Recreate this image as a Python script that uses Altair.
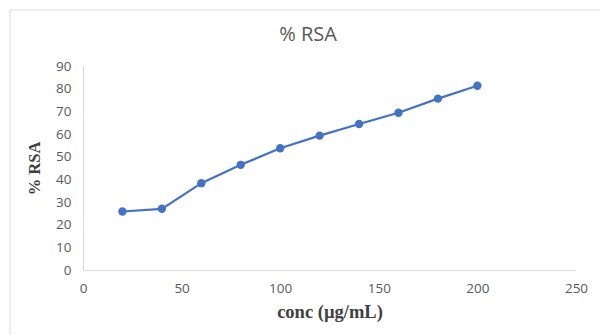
import altair as alt
import pandas as pd

conc = [20, 40, 60, 80, 100, 120, 140, 160, 180, 200]
rsa = [25.8, 27.0, 38.3, 46.4, 53.7, 59.3, 64.4, 69.4, 75.6, 81.3]
chart_title = ["% RSA"]

df = pd.DataFrame({"conc": conc, "rsa": rsa})
tdf = pd.DataFrame({"t": chart_title})

x = alt.X("conc:Q", title="conc (µg/mL)",
          scale=alt.Scale(domain=[0, 250], nice=False),
          axis=alt.Axis(values=[0, 50, 100, 150, 200, 250], grid=False, ticks=False,
                        labelFlush=False,
                        domainColor="#d9d9d9", labelColor="#595959", labelFontSize=13.5,
                        labelFont="Open Sans", labelPadding=11,
                        titleFont="Liberation Serif", titleFontSize=18.5, titleFontWeight="bold",
                        titleColor="#404040", titlePadding=8))
y = alt.Y("rsa:Q", title="% RSA",
          scale=alt.Scale(domain=[0, 90], nice=False),
          axis=alt.Axis(values=list(range(0, 91, 10)), grid=False, ticks=False,
                        domainColor="#d9d9d9", labelColor="#595959", labelFontSize=13.5,
                        labelFont="Open Sans", labelPadding=12,
                        titleFont="Liberation Serif", titleFontSize=16.5, titleFontWeight="bold",
                        titleColor="#404040", titlePadding=13))

border = alt.Chart(tdf).mark_rect(fill=None, stroke="#d9d9d9", strokeWidth=1, clip=False).encode(
    x=alt.value(-73), x2=alt.value(600), y=alt.value(-56), y2=alt.value(400))

title = alt.Chart(tdf).mark_text(font="Open Sans", fontSize=20, fontWeight="normal",
                                 color="#595959", align="center", baseline="middle").encode(
    text="t:N", x=alt.value(225), y=alt.value(-31))

line = alt.Chart(df).mark_line(color="#4472C4", strokeWidth=2.2).encode(x=x, y=y)
pts = alt.Chart(df).mark_circle(color="#4472C4", size=70, opacity=1).encode(x=x, y=y)

chart = alt.layer(border, title, line, pts).properties(
    width=493, height=204,
    background="white",
    autosize=alt.AutoSizeParams(type="none"),
    padding={"left": 83, "top": 66, "right": 24, "bottom": 65},
).configure_view(strokeWidth=0)

chart.save("out.html", embed_options={"renderer": "svg", "actions": False})
